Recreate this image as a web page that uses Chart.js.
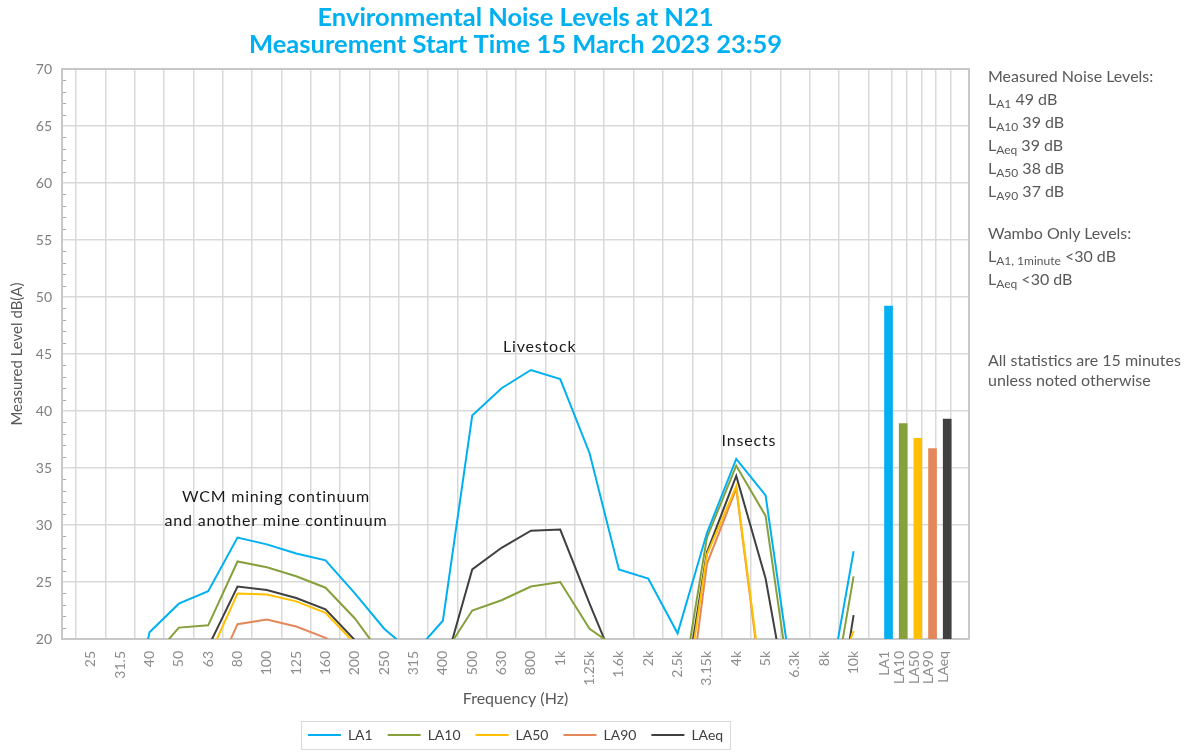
<!DOCTYPE html>
<html>
<head>
<meta charset="utf-8">
<title>Environmental Noise Levels at N21</title>
<script src="https://cdn.jsdelivr.net/npm/chart.js@4"></script>
<style>
  html, body { margin: 0; padding: 0; background: #fff; }
  #wrap { position: relative; width: 1192px; height: 754px; }
  #notes { position: absolute; left: 988px; top: 64px; font: 16px Lato, sans-serif; color: #595959; }
  #notes div { line-height: 23px; white-space: nowrap; }
  #notes sub { font-size: 12px; vertical-align: -3px; line-height: 0; }
  #notes .gap1 { margin-top: 19px; }
  #notes .gap2 { margin-top: 60px; }
  #notes .tight { line-height: 20px; }
</style>
</head>
<body>
<div id="wrap">
  <canvas id="noiseChart" width="1192" height="754"></canvas>
  <div id="notes">
    <div>Measured Noise Levels:</div>
    <div>L<sub>A1</sub> 49 dB</div>
    <div>L<sub>A10</sub> 39 dB</div>
    <div>L<sub>Aeq</sub> 39 dB</div>
    <div>L<sub>A50</sub> 38 dB</div>
    <div>L<sub>A90</sub> 37 dB</div>
    <div class="gap1">Wambo Only Levels:</div>
    <div>L<sub>A1, 1minute</sub> &lt;30 dB</div>
    <div>L<sub>Aeq</sub> &lt;30 dB</div>
    <div class="gap2 tight">All statistics are 15 minutes</div>
    <div class="tight">unless noted otherwise</div>
  </div>
</div>
<script>
// frequency bands (1/3 octave) and overall statistics
const freqLabels = ['25', '31.5', '40', '50', '63', '80', '100', '125', '160', '200', '250', '315', '400',
    '500', '630', '800', '1k', '1.25k', '1.6k', '2k', '2.5k', '3.15k', '4k', '5k', '6.3k', '8k', '10k'];
const statLabels = ['LA1', 'LA10', 'LA50', 'LA90', 'LAeq'];

// spectrum values in dB(A), values under 20 fall below the axis
const la1 = [8, 8, 20.6, 23.1, 24.2, 28.9, 28.3, 27.5, 26.9, 24.0, 20.9, 18.7, 21.6,
    39.6, 42.0, 43.6, 42.8, 36.3, 26.1, 25.3, 20.5, 29.3, 35.8, 32.6, 14.6, 13.2, 27.7];
const la10 = [12, 14, 18.0, 21.0, 21.2, 26.8, 26.3, 25.5, 24.5, 21.8, 18.3, 14, 18.5,
    22.5, 23.4, 24.6, 25.0, 20.9, 19.1, 12, 13.2, 28.9, 35.2, 30.8, 12.8, 10.6, 25.5];
const la50 = [8, 8, 10, 14, 18.3, 24.0, 23.9, 23.3, 22.3, 19.6, 15, 12, 12,
    14, 15, 16, 16, 15, 12, 10, 10, 27.4, 33.4, 13.4, 10, 13.7, 20.7];
const la90 = [5, 5, 8, 10, 15.6, 21.3, 21.7, 21.1, 20.1, 18.5, 12, 10, 10,
    12, 12, 13, 13, 12, 10, 8, 6.6, 26.6, 33.2, 13, 8, 8, 15];
const laeq = [10, 10, 12, 15, 19.3, 24.6, 24.3, 23.6, 22.6, 19.9, 15, 14, 17.0,
    26.1, 28.0, 29.5, 29.6, 23.1, 16.9, 12, 11.5, 27.6, 34.3, 25.3, 11, 6, 22.1];

// overall levels shown as bars
const statValues = [49.2, 38.9, 37.6, 36.7, 39.3];

const seriesNames = ['LA1', 'LA10', 'LA50', 'LA90', 'LAeq'];
const seriesColors = ['#00b0f0', '#86a03c', '#ffc000', '#e4875a', '#404040'];

// x positions: one unit per band, stat columns packed at half spacing
const statTicks = statLabels.map((s, j) => 27.06 + 0.5 * j);
const tickValues = freqLabels.map((f, i) => i).concat(statTicks);
const tickLabels = freqLabels.concat(statLabels);

const toPoints = arr => arr.map((v, i) => ({ x: i, y: v }));

const lineSets = [la1, la10, la50, la90, laeq].map((arr, k) => ({
    type: 'line',
    label: seriesNames[k],
    data: toPoints(arr),
    borderColor: seriesColors[k],
    backgroundColor: seriesColors[k],
    borderWidth: 2,
    pointRadius: 0,
    tension: 0
}));

const barSet = {
    type: 'bar',
    label: 'stats',
    data: statValues.map((v, j) => ({ x: statTicks[j] + 0.13, y: v })),
    backgroundColor: seriesColors,
    barThickness: 8
};

const sourceNotes = [
    { lines: ['WCM mining continuum', 'and another mine continuum'], x: 6.31, y: 32.5 },
    { lines: ['Livestock'], x: 15.3, y: 45.6 },
    { lines: ['Insects'], x: 22.43, y: 37.4 }
];

const framePlugin = {
    id: 'frame',
    beforeDatasetsDraw(chart) {
        const { ctx, chartArea } = chart;
        const yScale = chart.scales.y;
        ctx.save();
        ctx.strokeStyle = '#c8c8c8';
        ctx.lineWidth = 2;
        ctx.beginPath();
        ctx.moveTo(chartArea.left, chartArea.top);
        ctx.lineTo(chartArea.right, chartArea.top);
        ctx.lineTo(chartArea.right, chartArea.bottom);
        ctx.stroke();
        // minor ticks every 1 dB
        ctx.strokeStyle = '#a6a6a6';
        ctx.lineWidth = 1;
        for (let v = 21; v < 70; v++) {
            if (v % 5 === 0) continue;
            const py = Math.round(yScale.getPixelForValue(v)) + 0.5;
            ctx.beginPath();
            ctx.moveTo(chartArea.left + 1, py);
            ctx.lineTo(chartArea.left + 4, py);
            ctx.stroke();
        }
        ctx.restore();
    },
    afterDraw(chart) {
        const { ctx } = chart;
        const xs = chart.scales.x;
        const ys = chart.scales.y;
        ctx.save();
        ctx.fillStyle = '#1a1a1a';
        ctx.font = '16px Lato, sans-serif';
        ctx.textAlign = 'center';
        ctx.textBaseline = 'middle';
        if ('letterSpacing' in ctx) ctx.letterSpacing = '0.8px';
        sourceNotes.forEach(note => {
            const px = xs.getPixelForValue(note.x);
            const py = ys.getPixelForValue(note.y);
            note.lines.forEach((t, i) => ctx.fillText(t, px, py + i * 24));
        });
        // border round the legend
        const boxes = chart.legend.legendHitBoxes;
        if (boxes && boxes.length) {
            const left = Math.min(...boxes.map(b => b.left));
            const right = Math.max(...boxes.map(b => b.left + b.width));
            const top = Math.min(...boxes.map(b => b.top));
            const bottom = Math.max(...boxes.map(b => b.top + b.height));
            ctx.strokeStyle = '#d9d9d9';
            ctx.lineWidth = 1;
            ctx.strokeRect(Math.round(left - 7) + 0.5, Math.round(top - 7) + 0.5,
                Math.round(right - left + 14), Math.round(bottom - top + 14));
        }
        ctx.restore();
    }
};

const ctx = document.getElementById('noiseChart').getContext('2d');
new Chart(ctx, {
    data: { datasets: lineSets.concat([barSet]) },
    options: {
        responsive: false,
        animation: false,
        layout: { padding: { left: 0, right: 223, top: 0, bottom: 2 } },
        plugins: {
            title: {
                display: true,
                fullSize: false,
                text: ['Environmental Noise Levels at N21', 'Measurement Start Time 15 March 2023 23:59'],
                color: '#00b0f0',
                font: { family: 'Lato', size: 25.5, weight: 'bold', lineHeight: 1.06 },
                padding: { top: 4, bottom: 11 }
            },
            legend: {
                position: 'bottom',
                fullSize: false,
                labels: {
                    filter: item => item.datasetIndex < 5,
                    usePointStyle: true,
                    pointStyle: 'line',
                    pointStyleWidth: 33,
                    padding: 15,
                    color: '#404040',
                    font: { family: 'Lato', size: 14 }
                }
            },
            tooltip: { enabled: false }
        },
        scales: {
            x: {
                type: 'linear',
                min: -0.5,
                max: 29.45,
                afterBuildTicks: scale => {
                    scale.ticks = tickValues.map(v => ({ value: v }));
                },
                afterFit: scale => { scale.height = 74; },
                ticks: {
                    autoSkip: false,
                    maxRotation: 90,
                    minRotation: 90,
                    padding: 12,
                    color: '#8c8c8c',
                    font: { family: 'Lato', size: 14 },
                    callback: (val, idx) => tickLabels[idx]
                },
                grid: { color: '#d9d9d9', lineWidth: 1.5, drawTicks: false },
                border: { display: true, color: '#c8c8c8', width: 2 },
                title: {
                    display: true,
                    text: 'Frequency (Hz)',
                    color: '#595959',
                    font: { family: 'Lato', size: 16 },
                    padding: { top: 4, bottom: 5 }
                }
            },
            y: {
                min: 20,
                max: 70,
                afterFit: scale => { scale.width = 62; },
                ticks: {
                    stepSize: 5,
                    padding: 10,
                    color: '#7f7f7f',
                    font: { family: 'Lato', size: 14 }
                },
                grid: { color: '#d9d9d9', lineWidth: 1.5, drawTicks: false },
                border: { display: true, color: '#c8c8c8', width: 2 },
                title: {
                    display: true,
                    text: 'Measured Level dB(A)',
                    color: '#595959',
                    font: { family: 'Lato', size: 15 },
                    padding: { top: 8, bottom: 4 }
                }
            }
        }
    },
    plugins: [framePlugin]
});
</script>
</body>
</html>
